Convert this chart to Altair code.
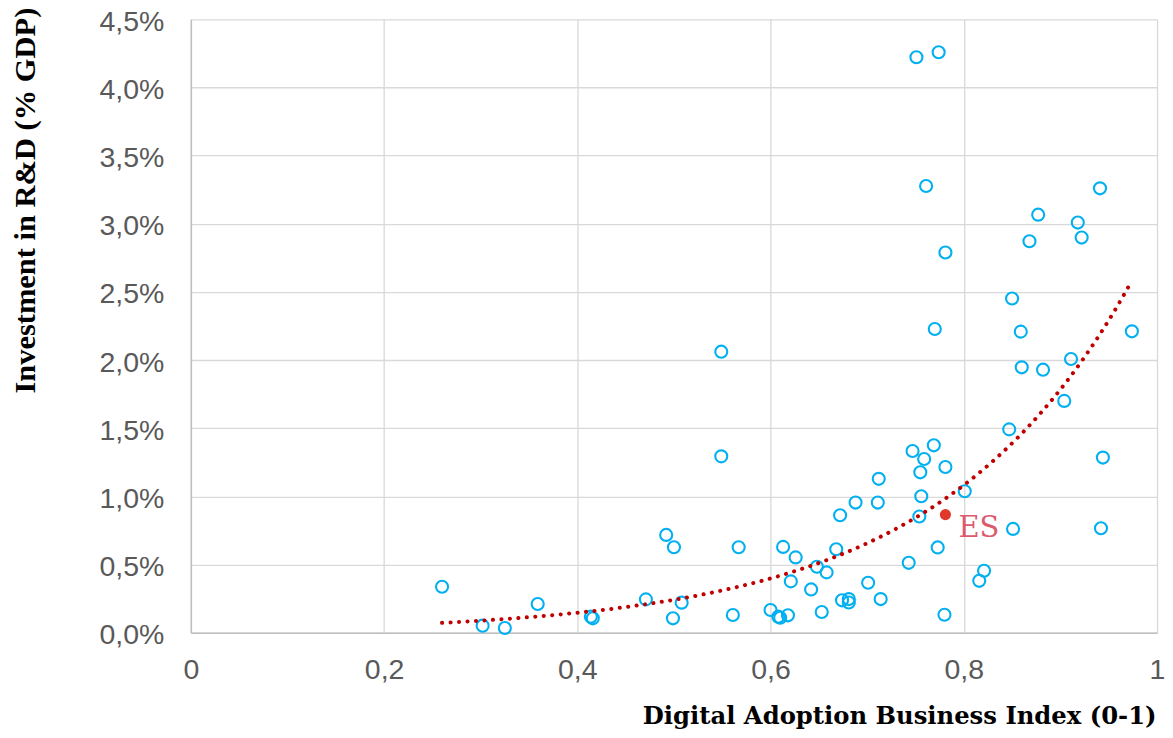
import altair as alt
import pandas as pd
import numpy as np

# Digital Adoption Business Index (0-1)
dabi = [0.260, 0.302, 0.325, 0.359, 0.414, 0.416, 0.471, 0.492, 0.500, 0.499,
        0.508, 0.549, 0.549, 0.561, 0.567, 0.600, 0.608, 0.610, 0.618, 0.613,
        0.621, 0.626, 0.642, 0.648, 0.653, 0.658, 0.668, 0.672, 0.674, 0.681,
        0.681, 0.688, 0.701, 0.711, 0.712, 0.714, 0.743, 0.747, 0.751, 0.754,
        0.755, 0.756, 0.759, 0.761, 0.769, 0.770, 0.773, 0.774, 0.780, 0.781,
        0.781, 0.801, 0.816, 0.821, 0.847, 0.850, 0.851, 0.859, 0.860, 0.868,
        0.877, 0.882, 0.904, 0.911, 0.918, 0.922, 0.941, 0.942, 0.944, 0.974]
# Investment in R&D (% GDP)
rd = [0.338, 0.052, 0.035, 0.211, 0.118, 0.106, 0.245, 0.718, 0.627, 0.106,
      0.221, 2.062, 1.294, 0.130, 0.627, 0.167, 0.118, 0.110, 0.128, 0.630,
      0.377, 0.553, 0.318, 0.484, 0.152, 0.443, 0.613, 0.862, 0.238, 0.247,
      0.222, 0.955, 0.367, 0.955, 1.129, 0.247, 0.513, 1.333, 4.222, 0.853,
      1.177, 1.001, 1.275, 3.277, 1.375, 2.228, 0.626, 4.258, 0.132, 1.216,
      2.789, 1.038, 0.381, 0.455, 1.492, 2.452, 0.762, 2.209, 1.947, 2.872,
      3.067, 1.930, 1.701, 2.008, 3.009, 2.899, 3.260, 0.767, 1.285, 2.211]

es_x = [0.781]
es_y = [0.867]
es_label = ["ES"]

x_ticks = [0, 0.2, 0.4, 0.6, 0.8, 1]
y_ticks = [0, 0.5, 1.0, 1.5, 2.0, 2.5, 3.0, 3.5, 4.0, 4.5]

df = pd.DataFrame({"dabi": dabi, "rd": rd})
es_df = pd.DataFrame({"dabi": es_x, "rd": es_y, "label": es_label})

# exponential trend line (least squares on ln(y), as a spreadsheet trendline)
all_x = np.array(dabi + es_x)
all_y = np.array(rd + es_y)
b, lna = np.polyfit(all_x, np.log(all_y), 1)
tx = np.linspace(all_x.min(), all_x.max(), 150)
trend_df = pd.DataFrame({"dabi": tx, "rd": np.exp(lna + b * tx)})

x_axis = alt.Axis(
    values=x_ticks,
    labelExpr="datum.value == 0 ? '0' : datum.value == 1 ? '1' : replace(format(datum.value, '.1f'), '.', ',')",
    grid=True, gridColor="#d9d9d9", gridWidth=1.3,
    domain=True, domainColor="#bfbfbf", domainWidth=1.5,
    ticks=False, tickSize=0,
    labelFont="Liberation Sans", labelFontSize=28.5, labelColor="#595959",
    labelPadding=23, labelFlush=False, labelOverlap=False,
    title="Digital Adoption Business Index (0-1)",
    titleFont="DejaVu Serif", titleFontWeight="bold", titleFontSize=24.3,
    titleColor="#000000", titleAlign="right", titleBaseline="alphabetic",
    titleX=966, titleY=91,
)
y_axis = alt.Axis(
    values=y_ticks,
    labelExpr="replace(format(datum.value, '.1f'), '.', ',') + '%'",
    grid=True, gridColor="#d9d9d9", gridWidth=1.3,
    domain=True, domainColor="#bfbfbf", domainWidth=1.5,
    ticks=False, tickSize=0,
    labelFont="Liberation Sans", labelFontSize=28.5, labelColor="#595959",
    labelPadding=27, labelOffset=2, labelFlush=False, labelOverlap=False,
    title="Investment in R&D (% GDP)",
    titleFont="Liberation Serif", titleFontWeight="bold", titleFontSize=30.5,
    titleColor="#000000", titleAlign="center", titleBaseline="alphabetic",
    titleAngle=-90, titleX=-156, titleY=181,
)

xs = alt.Scale(domain=[0, 1], nice=False, zero=False)
ys = alt.Scale(domain=[0, 4.5], nice=False)

X = alt.X("dabi:Q", scale=xs, axis=x_axis)
Y = alt.Y("rd:Q", scale=ys, axis=y_axis)

points = alt.Chart(df).mark_point(
    shape="circle", filled=False, color="#00b0f0", strokeWidth=2.1, size=145, opacity=1
).encode(x=X, y=Y)

trend = alt.Chart(trend_df).mark_line(
    color="#c00000", strokeWidth=4, strokeDash=[0.1, 8.4], strokeCap="round"
).encode(x=X, y=Y)

es_pt = alt.Chart(es_df).mark_point(
    shape="circle", filled=True, color="#e0392b", size=125, opacity=1
).encode(x=X, y=Y)

es_txt = alt.Chart(es_df).mark_text(
    font="DejaVu Serif", fontSize=29, color="#dc5a6e", align="left",
    baseline="alphabetic", dx=13, dy=22
).encode(x=X, y=Y, text="label:N")

chart = alt.layer(points, trend, es_pt, es_txt).properties(
    width=967, height=614,
    autosize=alt.AutoSizeParams(type="none"),
    padding={"left": 183, "top": 11, "right": 8, "bottom": 97},
).configure_view(stroke=None)

chart.save("out.html", embed_options={"renderer": "svg", "actions": False})
